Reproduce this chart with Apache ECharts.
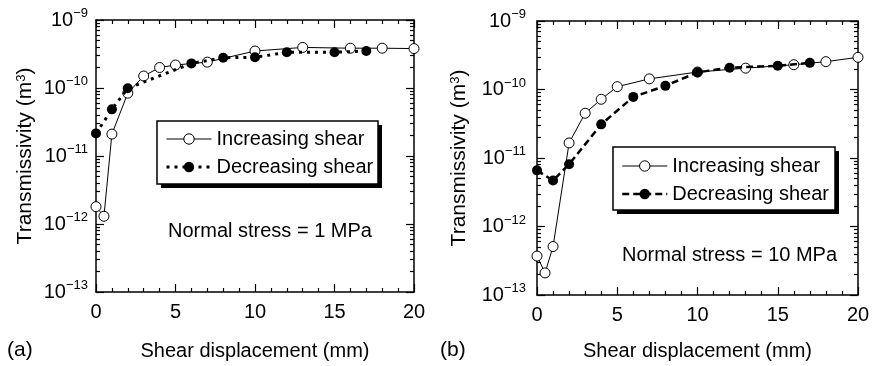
<!DOCTYPE html>
<html>
<head>
<meta charset="utf-8">
<script src="https://cdn.jsdelivr.net/npm/echarts@6/dist/echarts.min.js"></script>
<style>
  html, body { margin: 0; padding: 0; background: #fff; }
  #chart { width: 878px; height: 366px; }
</style>
</head>
<body>
<div id="chart"></div>
<script>
// Transmissivity vs shear displacement, normal stress 1 MPa (a) and 10 MPa (b)
const FONT = '"Liberation Sans", Arial, Helvetica, sans-serif';

// Panel (a): normal stress = 1 MPa
const aIncX = [0, 0.5, 1, 2, 3, 4, 5, 7, 10, 13, 16, 18, 20];
const aIncY = [1.8e-12, 1.3e-12, 2.1e-11, 8.4e-11, 1.5e-10, 2.0e-10, 2.18e-10, 2.4e-10, 3.5e-10, 3.95e-10, 3.85e-10, 3.85e-10, 3.8e-10];
const aDecX = [0, 1, 2, 6, 8, 10, 12, 15, 17];
const aDecY = [2.15e-11, 4.85e-11, 9.9e-11, 2.3e-10, 2.79e-10, 2.83e-10, 3.35e-10, 3.35e-10, 3.5e-10];

// Panel (b): normal stress = 10 MPa
const bIncX = [0, 0.5, 1, 2, 3, 4, 5, 7, 10, 13, 16, 18, 20];
const bIncY = [3.7e-13, 2.1e-13, 5.1e-13, 1.66e-11, 4.5e-11, 7.2e-11, 1.1e-10, 1.43e-10, 1.8e-10, 2.05e-10, 2.3e-10, 2.55e-10, 2.95e-10];
const bDecX = [0, 1, 2, 4, 6, 8, 10, 12, 15, 17];
const bDecY = [6.6e-12, 4.7e-12, 8.1e-12, 3.1e-11, 7.8e-11, 1.13e-10, 1.78e-10, 2.08e-10, 2.22e-10, 2.45e-10];

// Axis ranges and ticks
const xMin = 0, xMax = 20, xStep = 5;
const yMin = 1e-13, yMax = 1e-9;
const decadeExponents = [-13, -12, -11, -10, -9];
const minorMultipliers = [2, 3, 4, 5, 6, 7, 8, 9];

const seriesLabels = {
  incA: 'Increasing shear', decA: 'Decreasing shear',
  incB: 'Increasing shear', decB: 'Decreasing shear'
};
const stressLabels = ['Normal stress = 1 MPa', 'Normal stress = 10 MPa'];
const panelTags = ['(a)', '(b)'];
const xTitle = 'Shear displacement (mm)';

const pairs = (xs, ys) => xs.map((x, i) => [x, ys[i]]);

const minorTickValues = [];
decadeExponents.slice(0, -1).forEach(e => {
  minorMultipliers.forEach(m => minorTickValues.push(m * Math.pow(10, e)));
});

const axisLineStyle = { onZero: false, lineStyle: { color: '#000', width: 1.5 } };
const tickLine = { color: '#000', width: 1.2 };

function yLabel(v) {
  const e = Math.round(Math.log10(v));
  return '{b|10}{s|\u2212' + Math.abs(e) + '}';
}

// one plotting grid plus two overlay grids carrying the minor log ticks
function grids(left, top, width, height) {
  const g = { left, top, width, height, containLabel: false };
  return [Object.assign({}, g), Object.assign({}, g), Object.assign({}, g)];
}

function xAxes(g, margin, nameGap) {
  const base = {
    type: 'value', min: xMin, max: xMax, interval: xStep,
    gridIndex: g,
    axisLine: axisLineStyle,
    axisTick: { inside: true, length: 8, lineStyle: tickLine },
    minorTick: { show: true, splitNumber: 5, length: 4, lineStyle: tickLine },
    splitLine: { show: false }
  };
  const hidden = { type: 'value', min: xMin, max: xMax, show: false, axisLine: { onZero: false } };
  return [
    Object.assign({}, base, {
      position: 'bottom',
      axisLabel: { margin, fontSize: 20, color: '#000', fontFamily: FONT },
      name: xTitle, nameLocation: 'middle', nameGap,
      nameTextStyle: { fontSize: 20, color: '#000', fontFamily: FONT }
    }),
    Object.assign({}, base, { position: 'top', axisLabel: { show: false } }),
    Object.assign({ gridIndex: g + 1 }, hidden),
    Object.assign({ gridIndex: g + 2 }, hidden)
  ];
}

function yAxes(g, margin, nameGap) {
  const base = {
    type: 'log', logBase: 10, min: yMin, max: yMax,
    gridIndex: g,
    axisLine: axisLineStyle,
    axisTick: { inside: true, length: 8, lineStyle: tickLine },
    splitLine: { show: false }
  };
  const minor = {
    type: 'log', logBase: 10, min: yMin, max: yMax,
    axisLine: { show: false, onZero: false },
    axisLabel: { show: false },
    axisTick: { inside: true, length: 4, customValues: minorTickValues, lineStyle: tickLine },
    splitLine: { show: false }
  };
  return [
    Object.assign({}, base, {
      position: 'left',
      axisLabel: {
        margin, formatter: yLabel, color: '#000',
        rich: {
          b: { fontSize: 20, lineHeight: 26, fontFamily: FONT, color: '#000' },
          s: { fontSize: 13, lineHeight: 13, verticalAlign: 'top', fontFamily: FONT, color: '#000' }
        }
      },
      name: 'Transmissivity (m{sup|3})', nameLocation: 'middle', nameGap, nameRotate: 90,
      nameTextStyle: {
        fontSize: 21, color: '#000', fontFamily: FONT,
        rich: { sup: { fontSize: 13, lineHeight: 13, verticalAlign: 'top', fontFamily: FONT, color: '#000' } }
      }
    }),
    Object.assign({}, base, { position: 'right', axisLabel: { show: false } }),
    Object.assign({}, minor, { gridIndex: g + 1, position: 'left' }),
    Object.assign({}, minor, { gridIndex: g + 2, position: 'right' })
  ];
}

function incSeries(name, xi, yi, data) {
  return {
    name, type: 'line', xAxisIndex: xi, yAxisIndex: yi, data,
    symbol: 'circle', symbolSize: 10, clip: false, z: 2,
    itemStyle: { color: '#fff', borderColor: '#000', borderWidth: 1 },
    lineStyle: { color: '#000', width: 1, type: 'solid' }
  };
}
function decSeries(name, xi, yi, data, dash, width) {
  return {
    name, type: 'line', xAxisIndex: xi, yAxisIndex: yi, data,
    symbol: 'circle', symbolSize: 10, clip: false, z: 3,
    itemStyle: { color: '#000', borderColor: '#000', borderWidth: 0 },
    lineStyle: { color: '#000', width, type: dash, cap: 'butt' }
  };
}

function legend(left, top, padding, names, decDash, decWidth) {
  return {
    orient: 'vertical', left, top, padding, z: 10,
    itemWidth: 45, itemHeight: 13, itemGap: 8,
    selectedMode: false,
    backgroundColor: 'transparent', borderWidth: 0,
    textStyle: { fontSize: 20, lineHeight: 20, color: '#000', fontFamily: FONT },
    formatter: n => seriesLabels[n],
    data: [
      { name: names[0], itemStyle: { color: '#fff', borderColor: '#000', borderWidth: 1 },
        lineStyle: { color: '#000', width: 1, type: 'solid' } },
      { name: names[1], itemStyle: { color: '#000', borderWidth: 0 },
        lineStyle: { color: '#000', width: decWidth, type: decDash } }
    ]
  };
}

// framed legend box with a solid drop shadow
function legendBox(x, y, w, h) {
  return [
    { type: 'rect', z: 5, shape: { x: x + 4, y: y + 4, width: w, height: h }, style: { fill: '#000' } },
    { type: 'rect', z: 6, shape: { x, y, width: w, height: h }, style: { fill: '#fff', stroke: '#000', lineWidth: 1.5 } }
  ];
}

const dotA = [3, 5];
const dashB = [7, 4];

const option = {
  animation: false,
  backgroundColor: '#fff',
  grid: [].concat(grids(96, 20, 318, 272), grids(537, 21, 321, 274)),
  xAxis: [].concat(xAxes(0, 10, 49), xAxes(3, 10, 46)),
  yAxis: [].concat(yAxes(0, 8, 60), yAxes(3, 11, 67)),
  legend: [
    legend(157, 121, [8, 6, 7, 8], ['incA', 'decA'], dotA, 3),
    legend(613, 147, [9, 6, 7, 8], ['incB', 'decB'], dashB, 2.5)
  ],
  series: [
    incSeries('incA', 0, 0, pairs(aIncX, aIncY)),
    decSeries('decA', 0, 0, pairs(aDecX, aDecY), dotA, 3),
    incSeries('incB', 4, 4, pairs(bIncX, bIncY)),
    decSeries('decB', 4, 4, pairs(bDecX, bDecY), dashB, 2.5)
  ],
  graphic: [].concat(
    legendBox(157, 121, 221, 63),
    legendBox(613, 147, 222, 63),
    [
      { type: 'text', left: 168, top: 221, style: { text: stressLabels[0], fill: '#000', font: '20px ' + FONT } },
      { type: 'text', left: 622, top: 245, style: { text: stressLabels[1], fill: '#000', font: '20px ' + FONT } },
      { type: 'text', left: 7, top: 340, style: { text: panelTags[0], fill: '#000', font: '21px ' + FONT } },
      { type: 'text', left: 440, top: 340, style: { text: panelTags[1], fill: '#000', font: '21px ' + FONT } }
    ]
  )
};

const chart = echarts.init(document.getElementById('chart'), null, { renderer: 'canvas' });
chart.setOption(option);
</script>
</body>
</html>
